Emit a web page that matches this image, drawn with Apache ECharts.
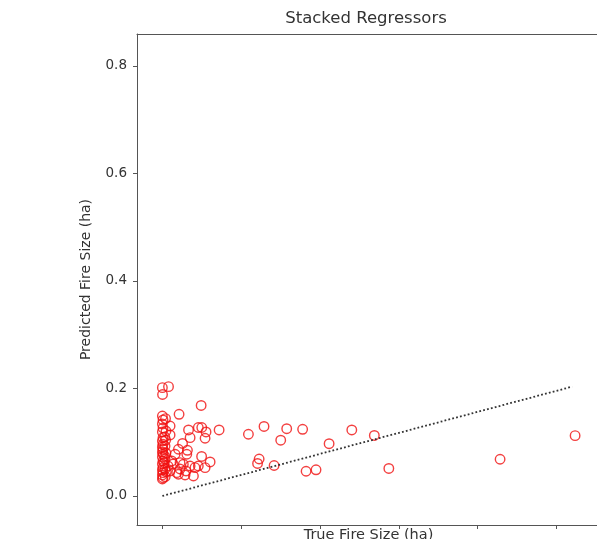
<!DOCTYPE html>
<html>
<head>
<meta charset="utf-8">
<script src="https://cdn.jsdelivr.net/npm/echarts@6/dist/echarts.min.js"></script>
<style>
  html, body { margin: 0; padding: 0; background: #fff; }
  #chart { width: 597px; height: 539px; }
</style>
</head>
<body>
<div id="chart"></div>
<script>
// True vs predicted fire size (ha) for the stacked regressor
const trueSize = [
  0.0000, 0.0039, 0.0001, 0.0000, 0.0004, 0.0000, 0.0004, 0.0000, 0.0004, 0.0000,
  0.0004, 0.0000, 0.0004, 0.0000, 0.0004, 0.0000, 0.0004, 0.0000, 0.0004, 0.0000,
  0.0004, 0.0000, 0.0004, 0.0000, 0.0017, 0.0017, 0.0023, 0.0017,
  0.0020, 0.0015, 0.0022, 0.0012, 0.0025, 0.0018, 0.0021, 0.0014,
  0.0049, 0.0049, 0.0036, 0.0049, 0.0060, 0.0081, 0.0091, 0.0102, 0.0112, 0.0133,
  0.0144, 0.0176, 0.0197, 0.0207, 0.0228, 0.0271, 0.0068, 0.0112, 0.0150,
  0.0106, 0.0246, 0.0166, 0.0228, 0.0250, 0.0277, 0.0271, 0.0360, 0.0128, 0.0159,
  0.0102, 0.0155, 0.0249, 0.0303, 0.0176, 0.0546, 0.0645, 0.0789, 0.0890, 0.0751,
  0.0614, 0.0604, 0.0709, 0.0912, 0.0975, 0.1058, 0.1202, 0.1345, 0.1437, 0.2143,
  0.2619
];
const predictedSize = [
  0.2015, 0.2034, 0.1888, 0.1488, 0.1414, 0.1340, 0.1265, 0.1191, 0.1085, 0.1023,
  0.0962, 0.0912, 0.0869, 0.0819, 0.0781, 0.0726, 0.0651, 0.0595, 0.0527, 0.0484,
  0.0434, 0.0391, 0.0340, 0.0316, 0.0688, 0.0930, 0.1209, 0.0502,
  0.1440, 0.1100, 0.0800, 0.0620, 0.0450, 0.0360, 0.1040, 0.0740,
  0.1302, 0.1135, 0.0558, 0.0465, 0.0651, 0.0776, 0.0434, 0.0404, 0.0620, 0.0590,
  0.0391, 0.0558, 0.0372, 0.0527, 0.0558, 0.0527, 0.0595, 0.0502, 0.0465,
  0.1520, 0.1684, 0.1228, 0.1274, 0.1274, 0.1191, 0.1074, 0.1228, 0.0977, 0.0850,
  0.0869, 0.0776, 0.0735, 0.0633, 0.1085, 0.1148, 0.1293, 0.1252, 0.1241, 0.1038,
  0.0688, 0.0605, 0.0567, 0.0460, 0.0487, 0.0973, 0.1228, 0.1126, 0.0512, 0.0683,
  0.1122
];
// Reference line drawn from the origin to (max true, max predicted)
const refLineX = [0, 0.26];
const refLineY = [0, 0.2034];

const yTicks = [0.0, 0.2, 0.4, 0.6, 0.8];
const xTicks = [0.00, 0.05, 0.10, 0.15, 0.20, 0.25];

const points = trueSize.map((x, i) => [x, predictedSize[i]]);
const refLine = refLineX.map((x, i) => [x, refLineY[i]]);

const axisColor = '#555';
const textColor = '#333';
const fontFamily = 'DejaVu Sans';

const chart = echarts.init(document.getElementById('chart'), null, { renderer: 'canvas' });
chart.setOption({
  animation: false,
  backgroundColor: '#fff',
  title: {
    text: 'Stacked Regressors',
    left: 361,
    top: 5,
    textAlign: 'center',
    textStyle: { fontFamily, fontSize: 16.5, fontWeight: 'normal', color: textColor }
  },
  grid: {
    left: 137, top: 34, width: 463, height: 491,
    containLabel: false,
    outerBoundsMode: 'none',
    show: false
  },
  xAxis: [
    {
      type: 'value',
      position: 'bottom',
      min: -0.0161,
      max: 0.2777,
      name: 'True Fire Size (ha)',
      nameLocation: 'middle',
      nameGap: 3,
      nameTextStyle: { fontFamily, fontSize: 14.5, color: textColor, verticalAlign: 'top' },
      splitLine: { show: false },
      axisLine: { show: true, onZero: false, lineStyle: { color: axisColor, width: 1 } },
      axisTick: { show: true, length: 4, lineStyle: { color: axisColor }, customValues: xTicks },
      axisLabel: { show: false }
    },
    {
      // top frame edge
      type: 'value',
      position: 'top',
      min: -0.0161,
      max: 0.2777,
      splitLine: { show: false },
      axisLine: { show: true, onZero: false, lineStyle: { color: axisColor, width: 1 } },
      axisTick: { show: false },
      axisLabel: { show: false }
    }
  ],
  yAxis: {
    type: 'value',
    min: -0.054,
    max: 0.8595,
    name: 'Predicted Fire Size (ha)',
    nameLocation: 'middle',
    nameGap: 44,
    nameRotate: 90,
    nameTextStyle: { fontFamily, fontSize: 14, color: textColor },
    splitLine: { show: false },
    axisLine: { show: true, onZero: false, lineStyle: { color: axisColor, width: 1 } },
    axisTick: { show: true, length: 4, lineStyle: { color: axisColor }, customValues: yTicks },
    axisLabel: {
      customValues: yTicks,
      margin: 10,
      fontFamily, fontSize: 13.5, color: textColor,
      formatter: v => v.toFixed(1)
    }
  },
  series: [
    {
      type: 'scatter',
      data: points,
      symbol: 'circle',
      symbolSize: 9.5,
      itemStyle: { color: 'rgba(0,0,0,0)', borderColor: '#f01010', borderWidth: 1.4 },
      z: 2
    },
    {
      type: 'line',
      data: refLine,
      showSymbol: false,
      symbol: 'none',
      lineStyle: { color: '#333', width: 1.8, type: [1.8, 2.2] },
      z: 3
    }
  ]
});
</script>
</body>
</html>
